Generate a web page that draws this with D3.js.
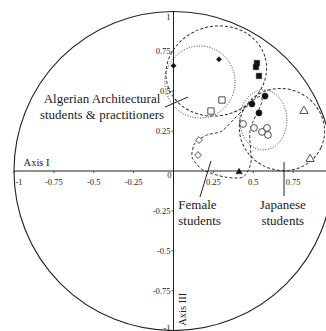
<!DOCTYPE html>
<html>
<head>
<meta charset="utf-8">
<script src="https://cdn.jsdelivr.net/npm/d3@7"></script>
<style>
  html, body { margin: 0; padding: 0; background: #fff; }
  svg { display: block; }
</style>
</head>
<body>
<svg id="chart" width="326" height="331" font-family="'Liberation Serif', 'Tinos', 'DejaVu Serif', serif"></svg>
<script>
// Correlation-circle style plot (Axis I vs Axis III)
const xTicks = [-1, -0.75, -0.5, -0.25, 0.25, 0.5, 0.75];
const yTicks = [1, 0.75, 0.5, 0.25, -0.25, -0.5, -0.75, -1];

// Group markers: [x, y]
const filledDiamonds = [[0.0, 0.66], [0.285, 0.70]];
const filledSquares = [[0.523, 0.677], [0.517, 0.652], [0.536, 0.596]];
const openSquares = [[0.304, 0.445], [0.235, 0.376]];
const filledCircles = [[0.492, 0.42], [0.574, 0.47], [0.536, 0.364]];
const openCircles = [[0.436, 0.295], [0.505, 0.27], [0.555, 0.245], [0.586, 0.27], [0.592, 0.226]];
const openTriangles = [[0.818, 0.376], [0.856, 0.075]];
const openDiamonds = [[0.16, 0.194], [0.154, 0.10]];
const filledTriangles = [[0.411, -0.006]];

// Group outlines: centre x, centre y, radius x, radius y, rotation (deg)
const dashedEllipses = [[0.268, 0.627, 0.318, 0.28, -15], [0.68, 0.26, 0.27, 0.255, 25]];
const dottedEllipses = [[0.166, 0.558, 0.22, 0.226, 0], [0.563, 0.32, 0.148, 0.188, 0]];
// Female students outline (closed curve through these points)
const femaleOutline = [[0.530, 0.464], [0.417, 0.364], [0.304, 0.251], [0.210, 0.226], [0.135, 0.176],
  [0.116, 0.088], [0.185, 0.006], [0.323, -0.038], [0.436, -0.038], [0.486, 0.056], [0.480, 0.257], [0.555, 0.433]];

// Callout labels and their leader lines
const labels = [
  { lines: ["Algerian Architectural", "students & practitioners"], x: -0.448, y: 0.424, anchor: "middle" },
  { lines: ["Female", "students"], x: 0.03, y: -0.24, anchor: "start" },
  { lines: ["Japanese", "students"], x: 0.685, y: -0.24, anchor: "middle" }
];
const leaders = [
  [[-0.053, 0.401], [0.091, 0.464]],
  [[0.235, 0.063], [0.166, -0.163]],
  [[0.693, 0.056], [0.693, -0.157]]
];

const svg = d3.select("#chart");
const R = 159.5, cx = 173.5, cy = 171;
const x = d3.scaleLinear().domain([-1, 1]).range([cx - R, cx + R]);
const y = d3.scaleLinear().domain([-1, 1]).range([cy + R, cy - R]);
const ink = "#222";

// unit circle
svg.append("circle").attr("cx", x(0)).attr("cy", y(0)).attr("r", x(1) - x(0))
  .attr("fill", "none").attr("stroke", ink).attr("stroke-width", 1.1);

// axes
svg.append("line").attr("x1", x(-1)).attr("x2", 330).attr("y1", y(0)).attr("y2", y(0))
  .attr("stroke", ink).attr("stroke-width", 1);
svg.append("line").attr("x1", x(0)).attr("x2", x(0)).attr("y1", y(1)).attr("y2", y(-1))
  .attr("stroke", ink).attr("stroke-width", 1);

// x ticks
const xg = svg.append("g");
xg.selectAll("line").data(xTicks).join("line")
  .attr("x1", d => x(d)).attr("x2", d => x(d)).attr("y1", y(0)).attr("y2", y(0) + 2)
  .attr("stroke", ink).attr("stroke-width", 0.8);
xg.selectAll("text").data(xTicks).join("text")
  .attr("x", d => x(d) + (d === -1 ? 5 : 0)).attr("y", y(0) + 14)
  .attr("text-anchor", "middle").attr("font-size", 8.5).attr("fill", ink)
  .text(d => String(d));
svg.append("text").attr("x", x(0) - 2).attr("y", y(0) + 7).attr("text-anchor", "end")
  .attr("font-size", 8.5).attr("fill", ink).text("0");

// y ticks
const yg = svg.append("g");
yg.selectAll("line").data(yTicks).join("line")
  .attr("x1", x(0) - 2).attr("x2", x(0)).attr("y1", d => y(d)).attr("y2", d => y(d))
  .attr("stroke", ink).attr("stroke-width", 0.8);
yg.selectAll("text").data(yTicks).join("text")
  .attr("x", x(0) - 3)
  .attr("y", d => y(d) + 3 + (d === 1 ? 5 : d === -1 ? -3 : 0))
  .attr("text-anchor", "end").attr("font-size", 8.5).attr("fill", ink)
  .text(d => String(d));

// axis titles
svg.append("text").attr("x", x(-0.94)).attr("y", y(0) - 5).attr("font-size", 10.5).attr("fill", ink).text("Axis I");
svg.append("text").attr("transform", `translate(${x(0) + 12},${y(-0.97)}) rotate(-90)`)
  .attr("font-size", 10.5).attr("fill", ink).text("Axis III");

// group outlines
function ellipse(sel, data, dash) {
  sel.selectAll(null).data(data).join("ellipse")
    .attr("cx", 0).attr("cy", 0)
    .attr("rx", d => x(d[2]) - x(0)).attr("ry", d => y(0) - y(d[3]))
    .attr("transform", d => `translate(${x(d[0])},${y(d[1])}) rotate(${d[4]})`)
    .attr("fill", "none").attr("stroke", "#333").attr("stroke-width", 1)
    .attr("stroke-dasharray", dash);
}
ellipse(svg.append("g"), dashedEllipses, "3,2");
ellipse(svg.append("g"), dottedEllipses, "1,1.6");
svg.append("path")
  .attr("d", d3.line().x(d => x(d[0])).y(d => y(d[1])).curve(d3.curveCardinalClosed.tension(0.3))(femaleOutline))
  .attr("fill", "none").attr("stroke", "#333").attr("stroke-width", 1).attr("stroke-dasharray", "3,2");

// markers
function markers(data, type, size, filled) {
  svg.append("g").selectAll("path").data(data).join("path")
    .attr("d", d3.symbol().type(type).size(size))
    .attr("transform", d => `translate(${x(d[0])},${y(d[1])})`)
    .attr("fill", filled ? "#111" : "#fff")
    .attr("stroke", ink).attr("stroke-width", filled ? 0.5 : 0.8);
}
markers(openCircles, d3.symbolCircle, 36, false);
markers(filledCircles, d3.symbolCircle, 30, true);
markers(filledSquares, d3.symbolSquare, 30, true);
markers(openSquares, d3.symbolSquare, 40, false);
markers(openTriangles, d3.symbolTriangle, 30, false);
markers(filledTriangles, d3.symbolTriangle, 18, true);
markers(openDiamonds, d3.symbolDiamond2, 30, false);
markers(filledDiamonds, d3.symbolDiamond2, 18, true);

// leader lines
svg.append("g").selectAll("line").data(leaders).join("line")
  .attr("x1", d => x(d[0][0])).attr("y1", d => y(d[0][1]))
  .attr("x2", d => x(d[1][0])).attr("y2", d => y(d[1][1]))
  .attr("stroke", ink).attr("stroke-width", 1);

// callout labels
labels.forEach(l => {
  const t = svg.append("text").attr("font-size", 13).attr("text-anchor", l.anchor).attr("fill", ink)
    .attr("x", x(l.x)).attr("y", y(l.y));
  l.lines.forEach((s, i) => {
    t.append("tspan").attr("x", x(l.x)).attr("dy", i === 0 ? 0 : 15.5).text(s);
  });
});
</script>
</body>
</html>
